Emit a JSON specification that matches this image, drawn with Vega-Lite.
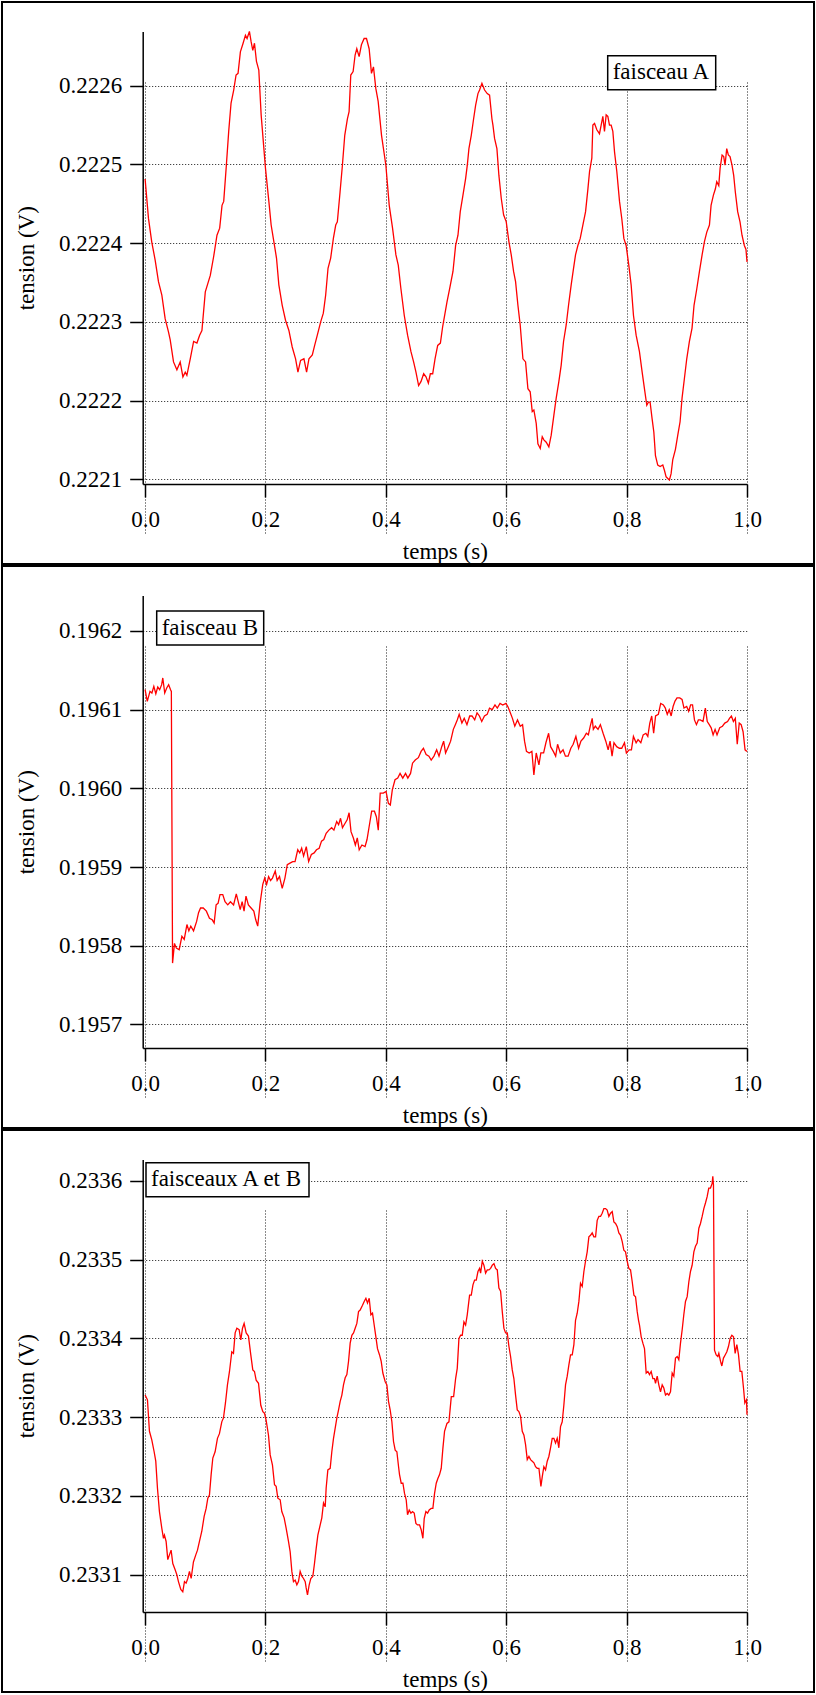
{
"$schema": "https://vega.github.io/schema/vega-lite/v6.json",
"background": "white",
"padding": {"left": 1, "top": 1, "right": 1, "bottom": 1},
"spacing": 0,
"datasets": {
"A": [
{"t":0,"v":0.2224814},{"t":0.0056,"v":0.2224314},{"t":0.011,"v":0.2224017},{"t":0.0167,"v":0.2223784},{"t":0.0222,"v":0.222351},{"t":0.0278,"v":0.222334},{"t":0.0333,"v":0.222304},{"t":0.0389,"v":0.222287},{"t":0.0417,"v":0.222277},{"t":0.0472,"v":0.222249},{"t":0.0528,"v":0.222239},{"t":0.0583,"v":0.222249},{"t":0.0628,"v":0.22223},{"t":0.0667,"v":0.222236},{"t":0.0694,"v":0.222232},{"t":0.075,"v":0.222253},{"t":0.0806,"v":0.222275},{"t":0.0861,"v":0.222273},{"t":0.0906,"v":0.222283},{"t":0.0944,"v":0.222289},{"t":0.1,"v":0.222338},{"t":0.1083,"v":0.222359},{"t":0.1139,"v":0.222383},{"t":0.1194,"v":0.22241},{"t":0.1239,"v":0.222419},{"t":0.1278,"v":0.222448},{"t":0.1306,"v":0.222453},{"t":0.135,"v":0.222499},{"t":0.1389,"v":0.222542},{"t":0.1428,"v":0.222578},{"t":0.1472,"v":0.2225945},{"t":0.1511,"v":0.2226136},{"t":0.1544,"v":0.2226157},{"t":0.1583,"v":0.222643},{"t":0.1628,"v":0.222654},{"t":0.1667,"v":0.222664},{"t":0.1694,"v":0.22266},{"t":0.1733,"v":0.222669},{"t":0.1761,"v":0.222656},{"t":0.1789,"v":0.222645},{"t":0.1817,"v":0.222654},{"t":0.185,"v":0.222631},{"t":0.1889,"v":0.22262},{"t":0.1928,"v":0.222563},{"t":0.2,"v":0.222495},{"t":0.2056,"v":0.222453},{"t":0.2094,"v":0.222423},{"t":0.2139,"v":0.222402},{"t":0.2183,"v":0.222381},{"t":0.2222,"v":0.222347},{"t":0.2278,"v":0.222321},{"t":0.2333,"v":0.222302},{"t":0.2389,"v":0.222289},{"t":0.2444,"v":0.222268},{"t":0.25,"v":0.222253},{"t":0.2539,"v":0.222236},{"t":0.2583,"v":0.222251},{"t":0.2639,"v":0.222253},{"t":0.2683,"v":0.222236},{"t":0.2722,"v":0.222253},{"t":0.2778,"v":0.222258},{"t":0.2817,"v":0.22227},{"t":0.2861,"v":0.222283},{"t":0.2917,"v":0.2223},{"t":0.2961,"v":0.222311},{"t":0.3,"v":0.222334},{"t":0.3039,"v":0.222368},{"t":0.3083,"v":0.222381},{"t":0.3128,"v":0.222406},{"t":0.3167,"v":0.222423},{"t":0.3194,"v":0.222427},{"t":0.3239,"v":0.222465},{"t":0.3278,"v":0.222499},{"t":0.3317,"v":0.222537},{"t":0.3361,"v":0.222558},{"t":0.3389,"v":0.222567},{"t":0.3417,"v":0.2226136},{"t":0.3456,"v":0.222618},{"t":0.3489,"v":0.222639},{"t":0.3517,"v":0.222647},{"t":0.3556,"v":0.222637},{"t":0.3594,"v":0.222652},{"t":0.3639,"v":0.22266},{"t":0.3678,"v":0.22266},{"t":0.3722,"v":0.222647},{"t":0.3761,"v":0.2226157},{"t":0.3794,"v":0.222624},{"t":0.3833,"v":0.2225966},{"t":0.3872,"v":0.22258},{"t":0.3928,"v":0.222537},{"t":0.4,"v":0.222499},{"t":0.4056,"v":0.222448},{"t":0.4111,"v":0.222419},{"t":0.4167,"v":0.222385},{"t":0.4206,"v":0.222372},{"t":0.425,"v":0.222342},{"t":0.4306,"v":0.222308},{"t":0.4361,"v":0.222283},{"t":0.4417,"v":0.222262},{"t":0.4461,"v":0.222249},{"t":0.45,"v":0.222236},{"t":0.4544,"v":0.222219},{"t":0.4583,"v":0.222224},{"t":0.4628,"v":0.222234},{"t":0.4667,"v":0.22223},{"t":0.4706,"v":0.222222},{"t":0.4739,"v":0.222234},{"t":0.4778,"v":0.222234},{"t":0.4817,"v":0.222253},{"t":0.4861,"v":0.22227},{"t":0.4906,"v":0.222273},{"t":0.4944,"v":0.222294},{"t":0.5015,"v":0.222325},{"t":0.5059,"v":0.222342},{"t":0.5115,"v":0.222364},{"t":0.5159,"v":0.222397},{"t":0.5198,"v":0.22241},{"t":0.5236,"v":0.22244},{"t":0.5281,"v":0.222461},{"t":0.5325,"v":0.222482},{"t":0.5353,"v":0.222499},{"t":0.538,"v":0.22252},{"t":0.5419,"v":0.222537},{"t":0.5458,"v":0.222558},{"t":0.5491,"v":0.222575},{"t":0.553,"v":0.22259},{"t":0.5557,"v":0.2225945},{"t":0.5596,"v":0.222603},{"t":0.564,"v":0.2225945},{"t":0.5684,"v":0.22259},{"t":0.5723,"v":0.222588},{"t":0.5762,"v":0.222558},{"t":0.5779,"v":0.22255},{"t":0.5806,"v":0.222533},{"t":0.5845,"v":0.22252},{"t":0.5878,"v":0.222486},{"t":0.5917,"v":0.222457},{"t":0.5956,"v":0.222436},{"t":0.6,"v":0.222427},{"t":0.6044,"v":0.222402},{"t":0.6083,"v":0.222385},{"t":0.6122,"v":0.222364},{"t":0.6155,"v":0.222351},{"t":0.6194,"v":0.222321},{"t":0.6232,"v":0.222296},{"t":0.6277,"v":0.222253},{"t":0.6321,"v":0.222249},{"t":0.636,"v":0.222215},{"t":0.6398,"v":0.222211},{"t":0.6432,"v":0.222186},{"t":0.6459,"v":0.222188},{"t":0.6498,"v":0.222171},{"t":0.6526,"v":0.222145},{"t":0.6565,"v":0.222139},{"t":0.6598,"v":0.222154},{"t":0.6625,"v":0.22215},{"t":0.6664,"v":0.222147},{"t":0.6708,"v":0.222141},{"t":0.6747,"v":0.222156},{"t":0.6791,"v":0.222181},{"t":0.683,"v":0.222203},{"t":0.6874,"v":0.222224},{"t":0.6913,"v":0.222245},{"t":0.6952,"v":0.222275},{"t":0.6996,"v":0.222296},{"t":0.7035,"v":0.222321},{"t":0.7079,"v":0.222347},{"t":0.7118,"v":0.222368},{"t":0.7151,"v":0.222385},{"t":0.719,"v":0.222397},{"t":0.7229,"v":0.222406},{"t":0.7273,"v":0.222423},{"t":0.7318,"v":0.22244},{"t":0.7357,"v":0.222469},{"t":0.7384,"v":0.222491},{"t":0.7422,"v":0.222508},{"t":0.7439,"v":0.22255},{"t":0.7467,"v":0.222552},{"t":0.7505,"v":0.222544},{"t":0.7549,"v":0.222539},{"t":0.7577,"v":0.22255},{"t":0.7605,"v":0.222561},{"t":0.7632,"v":0.222542},{"t":0.766,"v":0.222563},{"t":0.7688,"v":0.222561},{"t":0.7715,"v":0.22255},{"t":0.7743,"v":0.22255},{"t":0.7771,"v":0.222542},{"t":0.7799,"v":0.222516},{"t":0.7837,"v":0.222491},{"t":0.7882,"v":0.222453},{"t":0.792,"v":0.222431},{"t":0.7954,"v":0.222406},{"t":0.7992,"v":0.222397},{"t":0.8036,"v":0.222372},{"t":0.8075,"v":0.222347},{"t":0.8114,"v":0.222308},{"t":0.8158,"v":0.222283},{"t":0.8213,"v":0.222262},{"t":0.8258,"v":0.222236},{"t":0.8296,"v":0.222215},{"t":0.8335,"v":0.222194},{"t":0.8362,"v":0.222198},{"t":0.839,"v":0.222198},{"t":0.8423,"v":0.222177},{"t":0.8452,"v":0.22216},{"t":0.8479,"v":0.22213},{"t":0.8517,"v":0.222118},{"t":0.8557,"v":0.222116},{"t":0.8601,"v":0.222118},{"t":0.8629,"v":0.222111},{"t":0.8656,"v":0.222103},{"t":0.8684,"v":0.222101},{"t":0.8711,"v":0.222099},{"t":0.8739,"v":0.222107},{"t":0.8767,"v":0.222125},{"t":0.8811,"v":0.222138},{"t":0.885,"v":0.222156},{"t":0.8888,"v":0.222173},{"t":0.8921,"v":0.222203},{"t":0.896,"v":0.222228},{"t":0.8999,"v":0.222253},{"t":0.9043,"v":0.222275},{"t":0.9087,"v":0.222292},{"t":0.912,"v":0.222321},{"t":0.9166,"v":0.222342},{"t":0.921,"v":0.222364},{"t":0.9254,"v":0.222385},{"t":0.9293,"v":0.222402},{"t":0.9332,"v":0.222414},{"t":0.9376,"v":0.222423},{"t":0.9403,"v":0.222448},{"t":0.9442,"v":0.222461},{"t":0.9475,"v":0.222469},{"t":0.9497,"v":0.222478},{"t":0.9531,"v":0.222473},{"t":0.9553,"v":0.222495},{"t":0.9586,"v":0.222512},{"t":0.9613,"v":0.22251},{"t":0.9635,"v":0.222499},{"t":0.9663,"v":0.22252},{"t":0.969,"v":0.222512},{"t":0.9718,"v":0.22251},{"t":0.9751,"v":0.222499},{"t":0.9779,"v":0.222486},{"t":0.9806,"v":0.222465},{"t":0.9845,"v":0.22244},{"t":0.9884,"v":0.222427},{"t":0.9917,"v":0.22241},{"t":0.9956,"v":0.222397},{"t":0.9983,"v":0.222392},{"t":1.0,"v":0.222376}
],
"B": [
{"t":0,"v":0.1961254},{"t":0.0036,"v":0.1961106},{"t":0.0081,"v":0.1961233},{"t":0.0113,"v":0.1961212},{"t":0.0145,"v":0.1961297},{"t":0.0178,"v":0.1961203},{"t":0.021,"v":0.1961288},{"t":0.0242,"v":0.1961254},{"t":0.0275,"v":0.1961318},{"t":0.0294,"v":0.1961403},{"t":0.0326,"v":0.1961212},{"t":0.0359,"v":0.1961275},{"t":0.0391,"v":0.1961318},{"t":0.0423,"v":0.1961254},{"t":0.0436,"v":0.1961233},{"t":0.0456,"v":0.195778},{"t":0.0488,"v":0.195803},{"t":0.052,"v":0.195797},{"t":0.0566,"v":0.195795},{"t":0.0611,"v":0.195812},{"t":0.065,"v":0.195808},{"t":0.0695,"v":0.195827},{"t":0.0727,"v":0.195819},{"t":0.0759,"v":0.195825},{"t":0.0805,"v":0.195819},{"t":0.0856,"v":0.195831},{"t":0.0888,"v":0.195842},{"t":0.0921,"v":0.195848},{"t":0.0966,"v":0.195848},{"t":0.1018,"v":0.195844},{"t":0.1069,"v":0.195835},{"t":0.1115,"v":0.195833},{"t":0.1147,"v":0.195829},{"t":0.118,"v":0.195852},{"t":0.1212,"v":0.195854},{"t":0.1244,"v":0.195865},{"t":0.129,"v":0.195865},{"t":0.1328,"v":0.195856},{"t":0.1373,"v":0.195852},{"t":0.1418,"v":0.195856},{"t":0.147,"v":0.195852},{"t":0.1515,"v":0.195866},{"t":0.1547,"v":0.195856},{"t":0.158,"v":0.195846},{"t":0.1612,"v":0.195856},{"t":0.1644,"v":0.195844},{"t":0.1676,"v":0.195863},{"t":0.1716,"v":0.195852},{"t":0.1761,"v":0.195848},{"t":0.1806,"v":0.195844},{"t":0.1838,"v":0.195833},{"t":0.1871,"v":0.195825},{"t":0.191,"v":0.195854},{"t":0.1955,"v":0.195878},{"t":0.1987,"v":0.195886},{"t":0.2019,"v":0.195878},{"t":0.2052,"v":0.195888},{"t":0.2084,"v":0.195883},{"t":0.2116,"v":0.195886},{"t":0.2162,"v":0.195895},{"t":0.2194,"v":0.195883},{"t":0.2233,"v":0.195888},{"t":0.2278,"v":0.195873},{"t":0.2323,"v":0.195886},{"t":0.2362,"v":0.195903},{"t":0.2407,"v":0.195905},{"t":0.2452,"v":0.195907},{"t":0.2491,"v":0.195907},{"t":0.2536,"v":0.195922},{"t":0.2569,"v":0.195918},{"t":0.2601,"v":0.195924},{"t":0.2633,"v":0.195914},{"t":0.2678,"v":0.195926},{"t":0.2717,"v":0.195907},{"t":0.2762,"v":0.195916},{"t":0.2808,"v":0.195918},{"t":0.2847,"v":0.195922},{"t":0.2892,"v":0.195924},{"t":0.2931,"v":0.195933},{"t":0.2969,"v":0.195935},{"t":0.3008,"v":0.195943},{"t":0.3053,"v":0.195947},{"t":0.3099,"v":0.19595},{"t":0.3137,"v":0.195947},{"t":0.3183,"v":0.195958},{"t":0.3215,"v":0.195954},{"t":0.3247,"v":0.195962},{"t":0.3279,"v":0.19595},{"t":0.3325,"v":0.195956},{"t":0.3357,"v":0.19596},{"t":0.3389,"v":0.195969},{"t":0.3421,"v":0.195945},{"t":0.346,"v":0.195937},{"t":0.3493,"v":0.195928},{"t":0.3525,"v":0.195937},{"t":0.3557,"v":0.195922},{"t":0.3602,"v":0.195928},{"t":0.3654,"v":0.195926},{"t":0.3687,"v":0.195935},{"t":0.3732,"v":0.195956},{"t":0.3764,"v":0.195971},{"t":0.381,"v":0.195971},{"t":0.3842,"v":0.195964},{"t":0.3874,"v":0.195947},{"t":0.3906,"v":0.195994},{"t":0.3958,"v":0.195994},{"t":0.4003,"v":0.195996},{"t":0.4042,"v":0.195981},{"t":0.4074,"v":0.195979},{"t":0.4107,"v":0.195998},{"t":0.4152,"v":0.196011},{"t":0.4197,"v":0.196013},{"t":0.4236,"v":0.196019},{"t":0.4281,"v":0.196013},{"t":0.4327,"v":0.196019},{"t":0.4365,"v":0.196013},{"t":0.441,"v":0.196019},{"t":0.4443,"v":0.196032},{"t":0.4488,"v":0.196036},{"t":0.454,"v":0.196039},{"t":0.4585,"v":0.196047},{"t":0.4624,"v":0.196051},{"t":0.4669,"v":0.196043},{"t":0.4715,"v":0.196041},{"t":0.4753,"v":0.196036},{"t":0.4799,"v":0.196041},{"t":0.4844,"v":0.196049},{"t":0.4883,"v":0.196041},{"t":0.4928,"v":0.196053},{"t":0.496,"v":0.19606},{"t":0.4992,"v":0.196045},{"t":0.5038,"v":0.196053},{"t":0.5076,"v":0.19606},{"t":0.5121,"v":0.196075},{"t":0.5154,"v":0.196081},{"t":0.5186,"v":0.196087},{"t":0.5218,"v":0.196094},{"t":0.5263,"v":0.196083},{"t":0.5302,"v":0.196089},{"t":0.5347,"v":0.196081},{"t":0.5393,"v":0.196092},{"t":0.5431,"v":0.196092},{"t":0.5476,"v":0.196087},{"t":0.5515,"v":0.196096},{"t":0.5554,"v":0.196092},{"t":0.5593,"v":0.196085},{"t":0.5638,"v":0.196092},{"t":0.5683,"v":0.196094},{"t":0.5722,"v":0.196102},{"t":0.5767,"v":0.1961},{"t":0.5813,"v":0.196106},{"t":0.5851,"v":0.196102},{"t":0.5897,"v":0.196108},{"t":0.5942,"v":0.196106},{"t":0.5994,"v":0.196108},{"t":0.6026,"v":0.196104},{"t":0.6058,"v":0.196098},{"t":0.6103,"v":0.196089},{"t":0.6142,"v":0.196079},{"t":0.6187,"v":0.196087},{"t":0.6233,"v":0.196079},{"t":0.6271,"v":0.196081},{"t":0.6304,"v":0.19606},{"t":0.6336,"v":0.196047},{"t":0.6381,"v":0.196045},{"t":0.6426,"v":0.196047},{"t":0.6459,"v":0.196017},{"t":0.6498,"v":0.196045},{"t":0.6543,"v":0.19603},{"t":0.6575,"v":0.196045},{"t":0.6621,"v":0.196045},{"t":0.6659,"v":0.196058},{"t":0.6704,"v":0.19607},{"t":0.6737,"v":0.196053},{"t":0.6782,"v":0.196047},{"t":0.6821,"v":0.196041},{"t":0.6853,"v":0.196056},{"t":0.6898,"v":0.196045},{"t":0.6944,"v":0.196049},{"t":0.6983,"v":0.196041},{"t":0.7028,"v":0.196041},{"t":0.7073,"v":0.196051},{"t":0.7112,"v":0.196056},{"t":0.7157,"v":0.196066},{"t":0.7202,"v":0.196051},{"t":0.7241,"v":0.19606},{"t":0.7286,"v":0.196064},{"t":0.7331,"v":0.19607},{"t":0.7364,"v":0.196068},{"t":0.7396,"v":0.196079},{"t":0.7428,"v":0.196089},{"t":0.7447,"v":0.196075},{"t":0.748,"v":0.196079},{"t":0.7525,"v":0.196075},{"t":0.7564,"v":0.196081},{"t":0.7609,"v":0.19607},{"t":0.7654,"v":0.19606},{"t":0.7693,"v":0.196049},{"t":0.7725,"v":0.19606},{"t":0.7758,"v":0.196041},{"t":0.779,"v":0.196058},{"t":0.7835,"v":0.196053},{"t":0.788,"v":0.196051},{"t":0.7919,"v":0.196051},{"t":0.7964,"v":0.196058},{"t":0.7996,"v":0.196045},{"t":0.8042,"v":0.196049},{"t":0.808,"v":0.196049},{"t":0.8113,"v":0.196066},{"t":0.8158,"v":0.196058},{"t":0.819,"v":0.196062},{"t":0.8236,"v":0.196058},{"t":0.8275,"v":0.196068},{"t":0.832,"v":0.19607},{"t":0.8352,"v":0.196066},{"t":0.8385,"v":0.196083},{"t":0.8417,"v":0.196092},{"t":0.8449,"v":0.19607},{"t":0.8481,"v":0.196092},{"t":0.8527,"v":0.196094},{"t":0.8566,"v":0.196108},{"t":0.8611,"v":0.196106},{"t":0.8643,"v":0.196102},{"t":0.8675,"v":0.196094},{"t":0.8708,"v":0.1961},{"t":0.874,"v":0.196092},{"t":0.8772,"v":0.196104},{"t":0.8804,"v":0.196111},{"t":0.8837,"v":0.196115},{"t":0.8882,"v":0.196115},{"t":0.8921,"v":0.196113},{"t":0.8953,"v":0.196102},{"t":0.8998,"v":0.196104},{"t":0.9031,"v":0.196098},{"t":0.9063,"v":0.196106},{"t":0.9095,"v":0.196106},{"t":0.9127,"v":0.196087},{"t":0.916,"v":0.196081},{"t":0.9192,"v":0.196087},{"t":0.9224,"v":0.196087},{"t":0.9269,"v":0.196085},{"t":0.9308,"v":0.196102},{"t":0.934,"v":0.196085},{"t":0.9373,"v":0.196081},{"t":0.9405,"v":0.196077},{"t":0.9437,"v":0.196068},{"t":0.947,"v":0.196075},{"t":0.9502,"v":0.196068},{"t":0.9547,"v":0.196077},{"t":0.9592,"v":0.196079},{"t":0.9631,"v":0.196083},{"t":0.9677,"v":0.196085},{"t":0.9709,"v":0.196089},{"t":0.9741,"v":0.196092},{"t":0.9774,"v":0.196085},{"t":0.9806,"v":0.196089},{"t":0.9838,"v":0.196056},{"t":0.9871,"v":0.196083},{"t":0.9903,"v":0.196081},{"t":0.9935,"v":0.196072},{"t":0.9968,"v":0.196049},{"t":1.0,"v":0.196047}
],
"AB": [
{"t":0,"v":0.2333282},{"t":0.0039,"v":0.233322},{"t":0.0072,"v":0.233282},{"t":0.0111,"v":0.233271},{"t":0.015,"v":0.233256},{"t":0.0177,"v":0.233244},{"t":0.0205,"v":0.23321},{"t":0.0238,"v":0.23318},{"t":0.0277,"v":0.233159},{"t":0.0305,"v":0.233146},{"t":0.0321,"v":0.23315},{"t":0.0349,"v":0.233142},{"t":0.0377,"v":0.233119},{"t":0.0404,"v":0.233125},{"t":0.0432,"v":0.233131},{"t":0.046,"v":0.233114},{"t":0.0499,"v":0.233106},{"t":0.0526,"v":0.2331},{"t":0.0554,"v":0.233091},{"t":0.0593,"v":0.233081},{"t":0.0626,"v":0.233078},{"t":0.0654,"v":0.233091},{"t":0.0681,"v":0.233089},{"t":0.0709,"v":0.233095},{"t":0.0737,"v":0.233104},{"t":0.0765,"v":0.233095},{"t":0.0803,"v":0.233116},{"t":0.0842,"v":0.233125},{"t":0.087,"v":0.233131},{"t":0.0903,"v":0.233142},{"t":0.0942,"v":0.233155},{"t":0.0981,"v":0.233174},{"t":0.1014,"v":0.233184},{"t":0.1042,"v":0.233197},{"t":0.1069,"v":0.233201},{"t":0.1097,"v":0.233227},{"t":0.1125,"v":0.233248},{"t":0.1163,"v":0.233256},{"t":0.1202,"v":0.233273},{"t":0.1235,"v":0.233279},{"t":0.1274,"v":0.233294},{"t":0.1302,"v":0.233299},{"t":0.1335,"v":0.233318},{"t":0.1368,"v":0.233341},{"t":0.1402,"v":0.233358},{"t":0.144,"v":0.233383},{"t":0.1468,"v":0.233381},{"t":0.1496,"v":0.233407},{"t":0.1524,"v":0.233413},{"t":0.1562,"v":0.233411},{"t":0.159,"v":0.233398},{"t":0.1618,"v":0.233413},{"t":0.1645,"v":0.233419},{"t":0.1679,"v":0.233407},{"t":0.1717,"v":0.233403},{"t":0.1756,"v":0.233379},{"t":0.1789,"v":0.23336},{"t":0.1817,"v":0.233358},{"t":0.1845,"v":0.233347},{"t":0.1884,"v":0.233343},{"t":0.1922,"v":0.233315},{"t":0.1956,"v":0.233307},{"t":0.1983,"v":0.233305},{"t":0.2011,"v":0.233296},{"t":0.205,"v":0.233277},{"t":0.2078,"v":0.233252},{"t":0.2116,"v":0.233239},{"t":0.215,"v":0.233214},{"t":0.2177,"v":0.233212},{"t":0.2205,"v":0.233197},{"t":0.2244,"v":0.233195},{"t":0.2271,"v":0.23318},{"t":0.231,"v":0.233172},{"t":0.2343,"v":0.233159},{"t":0.2382,"v":0.233142},{"t":0.241,"v":0.233129},{"t":0.2438,"v":0.233104},{"t":0.2465,"v":0.233091},{"t":0.2493,"v":0.233093},{"t":0.2521,"v":0.233087},{"t":0.2548,"v":0.233091},{"t":0.2576,"v":0.233104},{"t":0.2604,"v":0.233098},{"t":0.2632,"v":0.233095},{"t":0.266,"v":0.233091},{"t":0.2676,"v":0.233083},{"t":0.2698,"v":0.233074},{"t":0.2726,"v":0.233087},{"t":0.2753,"v":0.233095},{"t":0.2787,"v":0.233098},{"t":0.2814,"v":0.233114},{"t":0.2842,"v":0.233133},{"t":0.287,"v":0.23315},{"t":0.2909,"v":0.233163},{"t":0.2936,"v":0.233172},{"t":0.2964,"v":0.233191},{"t":0.2992,"v":0.233186},{"t":0.3008,"v":0.23321},{"t":0.3036,"v":0.233233},{"t":0.3075,"v":0.233235},{"t":0.3102,"v":0.233256},{"t":0.313,"v":0.233273},{"t":0.3158,"v":0.233286},{"t":0.3186,"v":0.233299},{"t":0.3213,"v":0.233309},{"t":0.3241,"v":0.23332},{"t":0.3269,"v":0.233328},{"t":0.3296,"v":0.233341},{"t":0.3324,"v":0.23335},{"t":0.3352,"v":0.233354},{"t":0.338,"v":0.233371},{"t":0.3407,"v":0.233394},{"t":0.3435,"v":0.233404},{"t":0.3463,"v":0.233407},{"t":0.349,"v":0.233413},{"t":0.3518,"v":0.233419},{"t":0.3546,"v":0.233434},{"t":0.3573,"v":0.233436},{"t":0.3612,"v":0.233442},{"t":0.364,"v":0.233447},{"t":0.3668,"v":0.233451},{"t":0.3695,"v":0.233445},{"t":0.3723,"v":0.233451},{"t":0.3751,"v":0.23343},{"t":0.3778,"v":0.233432},{"t":0.3806,"v":0.233417},{"t":0.3834,"v":0.233402},{"t":0.3861,"v":0.233387},{"t":0.3895,"v":0.233379},{"t":0.3922,"v":0.233371},{"t":0.395,"v":0.233356},{"t":0.3989,"v":0.233345},{"t":0.4017,"v":0.233341},{"t":0.4044,"v":0.23332},{"t":0.4072,"v":0.233309},{"t":0.41,"v":0.233294},{"t":0.4127,"v":0.233269},{"t":0.4155,"v":0.233258},{"t":0.4183,"v":0.233256},{"t":0.4211,"v":0.233237},{"t":0.4227,"v":0.233227},{"t":0.4255,"v":0.233216},{"t":0.4283,"v":0.233216},{"t":0.431,"v":0.233203},{"t":0.4338,"v":0.233195},{"t":0.436,"v":0.233176},{"t":0.4388,"v":0.233182},{"t":0.4416,"v":0.233178},{"t":0.4443,"v":0.23318},{"t":0.4471,"v":0.233178},{"t":0.4499,"v":0.233165},{"t":0.4526,"v":0.233163},{"t":0.456,"v":0.233163},{"t":0.4587,"v":0.233157},{"t":0.4615,"v":0.233146},{"t":0.4637,"v":0.233171},{"t":0.4665,"v":0.23318},{"t":0.4693,"v":0.233178},{"t":0.472,"v":0.233182},{"t":0.4753,"v":0.233184},{"t":0.4781,"v":0.233184},{"t":0.4809,"v":0.233203},{"t":0.4837,"v":0.233216},{"t":0.4864,"v":0.233222},{"t":0.4892,"v":0.233227},{"t":0.492,"v":0.233235},{"t":0.4947,"v":0.23326},{"t":0.4975,"v":0.233282},{"t":0.5015,"v":0.233292},{"t":0.5048,"v":0.233294},{"t":0.5087,"v":0.233326},{"t":0.5126,"v":0.233326},{"t":0.5159,"v":0.233349},{"t":0.5186,"v":0.233362},{"t":0.5214,"v":0.2334},{"t":0.5242,"v":0.233404},{"t":0.5269,"v":0.233404},{"t":0.5297,"v":0.233421},{"t":0.5325,"v":0.233417},{"t":0.5352,"v":0.23343},{"t":0.5391,"v":0.233455},{"t":0.5419,"v":0.233455},{"t":0.5447,"v":0.233468},{"t":0.5474,"v":0.233474},{"t":0.5502,"v":0.233474},{"t":0.553,"v":0.233485},{"t":0.5557,"v":0.233489},{"t":0.5574,"v":0.233483},{"t":0.5602,"v":0.233498},{"t":0.5629,"v":0.233493},{"t":0.5657,"v":0.233483},{"t":0.5685,"v":0.233487},{"t":0.5712,"v":0.233487},{"t":0.574,"v":0.233489},{"t":0.5768,"v":0.233493},{"t":0.5796,"v":0.233495},{"t":0.5823,"v":0.233489},{"t":0.5851,"v":0.233487},{"t":0.5878,"v":0.233464},{"t":0.5906,"v":0.23346},{"t":0.5934,"v":0.233434},{"t":0.5961,"v":0.233413},{"t":0.5989,"v":0.233407},{"t":0.6017,"v":0.233407},{"t":0.6044,"v":0.23339},{"t":0.6072,"v":0.233377},{"t":0.61,"v":0.23336},{"t":0.6127,"v":0.233349},{"t":0.6155,"v":0.233328},{"t":0.6183,"v":0.233309},{"t":0.621,"v":0.233307},{"t":0.6238,"v":0.233301},{"t":0.6266,"v":0.233282},{"t":0.6294,"v":0.233277},{"t":0.6321,"v":0.233265},{"t":0.6349,"v":0.233246},{"t":0.6377,"v":0.23325},{"t":0.6404,"v":0.233246},{"t":0.6432,"v":0.233244},{"t":0.646,"v":0.233242},{"t":0.6487,"v":0.233237},{"t":0.6515,"v":0.233235},{"t":0.6543,"v":0.233235},{"t":0.6576,"v":0.233212},{"t":0.6598,"v":0.233224},{"t":0.6625,"v":0.233237},{"t":0.6653,"v":0.233233},{"t":0.6681,"v":0.233244},{"t":0.6708,"v":0.23325},{"t":0.6736,"v":0.233261},{"t":0.6764,"v":0.233273},{"t":0.6791,"v":0.233273},{"t":0.6819,"v":0.233267},{"t":0.6847,"v":0.233273},{"t":0.6874,"v":0.233261},{"t":0.6902,"v":0.233288},{"t":0.693,"v":0.233294},{"t":0.6957,"v":0.233315},{"t":0.6985,"v":0.233341},{"t":0.7013,"v":0.233352},{"t":0.704,"v":0.233366},{"t":0.7068,"v":0.233379},{"t":0.7096,"v":0.233379},{"t":0.7124,"v":0.233392},{"t":0.7151,"v":0.233423},{"t":0.7179,"v":0.233432},{"t":0.7207,"v":0.233447},{"t":0.7234,"v":0.23347},{"t":0.7262,"v":0.233466},{"t":0.729,"v":0.233485},{"t":0.7317,"v":0.233498},{"t":0.7345,"v":0.23351},{"t":0.7373,"v":0.233529},{"t":0.74,"v":0.233531},{"t":0.7428,"v":0.233534},{"t":0.7456,"v":0.233529},{"t":0.7484,"v":0.233529},{"t":0.7511,"v":0.23355},{"t":0.7539,"v":0.233555},{"t":0.7567,"v":0.233555},{"t":0.7594,"v":0.233559},{"t":0.7622,"v":0.233565},{"t":0.765,"v":0.233565},{"t":0.7677,"v":0.233563},{"t":0.7705,"v":0.233555},{"t":0.7733,"v":0.233559},{"t":0.7761,"v":0.233561},{"t":0.7788,"v":0.233548},{"t":0.7816,"v":0.233546},{"t":0.7844,"v":0.233542},{"t":0.7871,"v":0.233534},{"t":0.7899,"v":0.233531},{"t":0.7927,"v":0.233523},{"t":0.7954,"v":0.233512},{"t":0.7982,"v":0.23351},{"t":0.801,"v":0.233498},{"t":0.8037,"v":0.233489},{"t":0.8065,"v":0.233487},{"t":0.8093,"v":0.233472},{"t":0.8121,"v":0.233455},{"t":0.8148,"v":0.233453},{"t":0.8176,"v":0.233434},{"t":0.8198,"v":0.233423},{"t":0.8214,"v":0.233417},{"t":0.8242,"v":0.233402},{"t":0.827,"v":0.233394},{"t":0.8297,"v":0.233387},{"t":0.8325,"v":0.233356},{"t":0.8353,"v":0.233358},{"t":0.838,"v":0.233354},{"t":0.8408,"v":0.233358},{"t":0.8436,"v":0.233349},{"t":0.8463,"v":0.233349},{"t":0.848,"v":0.233343},{"t":0.8508,"v":0.233352},{"t":0.8535,"v":0.233341},{"t":0.8563,"v":0.233332},{"t":0.8591,"v":0.233341},{"t":0.8618,"v":0.233337},{"t":0.8646,"v":0.233328},{"t":0.8674,"v":0.23333},{"t":0.8701,"v":0.233328},{"t":0.8729,"v":0.233332},{"t":0.8757,"v":0.233356},{"t":0.8784,"v":0.233352},{"t":0.8812,"v":0.233375},{"t":0.884,"v":0.233377},{"t":0.8867,"v":0.233373},{"t":0.8895,"v":0.233394},{"t":0.8923,"v":0.233411},{"t":0.895,"v":0.23343},{"t":0.8978,"v":0.233447},{"t":0.9006,"v":0.233453},{"t":0.9034,"v":0.233472},{"t":0.9061,"v":0.233485},{"t":0.9089,"v":0.233493},{"t":0.9117,"v":0.23351},{"t":0.9144,"v":0.233517},{"t":0.9172,"v":0.233521},{"t":0.92,"v":0.23354},{"t":0.9227,"v":0.233546},{"t":0.9255,"v":0.233555},{"t":0.9283,"v":0.233565},{"t":0.931,"v":0.233572},{"t":0.9338,"v":0.23358},{"t":0.9365,"v":0.233591},{"t":0.9393,"v":0.233591},{"t":0.9421,"v":0.233597},{"t":0.9432,"v":0.233606},{"t":0.9443,"v":0.233595},{"t":0.946,"v":0.233385},{"t":0.9488,"v":0.233379},{"t":0.9515,"v":0.233377},{"t":0.9532,"v":0.233381},{"t":0.956,"v":0.233371},{"t":0.9582,"v":0.233365},{"t":0.9609,"v":0.233375},{"t":0.9637,"v":0.233379},{"t":0.9665,"v":0.233383},{"t":0.9693,"v":0.23339},{"t":0.972,"v":0.2334},{"t":0.9748,"v":0.233404},{"t":0.9776,"v":0.233402},{"t":0.9803,"v":0.233381},{"t":0.9831,"v":0.233392},{"t":0.9859,"v":0.233379},{"t":0.9886,"v":0.233358},{"t":0.9914,"v":0.233358},{"t":0.9942,"v":0.233337},{"t":0.9964,"v":0.233318},{"t":0.9992,"v":0.233322},{"t":1.0,"v":0.233303}
]
},
"vconcat": [
{
"width": 812, "height": 562,
"data": {"name": "A"},
"mark": {"type": "line", "strokeWidth": 1.3},
"encoding": {
"x": {"field": "t", "type": "quantitative", "scale": {"domain": [-0.004, 1], "range": [140.7, 745], "nice": false, "zero": false}, "axis": {"values": [0, 0.2, 0.4, 0.6, 0.8, 1], "format": ".1f", "offset": -80, "title": "temps (s)"}},
"y": {"field": "v", "type": "quantitative", "scale": {"domain": [0.2220939, 0.2226689], "range": [482, 29.5], "nice": false, "zero": false}, "axis": {"values": [0.2221, 0.2222, 0.2223, 0.2224, 0.2225, 0.2226], "format": ".4f", "offset": -140.7, "title": "tension (V)"}},
"color": {"datum": "faisceau A", "type": "nominal", "scale": {"range": ["#ff0000"]}, "legend": {"title": null, "orient": "none", "legendX": 605.7, "legendY": 53.7, "symbolType": "circle", "symbolSize": 0.01, "symbolStrokeWidth": 0, "symbolOpacity": 0, "labelOffset": -23}}
}
},
{
"width": 812, "height": 562,
"data": {"name": "B"},
"mark": {"type": "line", "strokeWidth": 1.3},
"encoding": {
"x": {"field": "t", "type": "quantitative", "scale": {"domain": [-0.004, 1], "range": [140.7, 745], "nice": false, "zero": false}, "axis": {"values": [0, 0.2, 0.4, 0.6, 0.8, 1], "format": ".1f", "offset": -80, "title": "temps (s)"}},
"y": {"field": "v", "type": "quantitative", "scale": {"domain": [0.1956701, 0.1962451], "range": [482, 29.5], "nice": false, "zero": false}, "axis": {"values": [0.1957, 0.1958, 0.1959, 0.196, 0.1961, 0.1962], "format": ".4f", "offset": -140.7, "title": "tension (V)"}},
"color": {"datum": "faisceau B", "type": "nominal", "scale": {"range": ["#ff0000"]}, "legend": {"title": null, "orient": "none", "legendX": 154.7, "legendY": 45, "symbolType": "circle", "symbolSize": 0.01, "symbolStrokeWidth": 0, "symbolOpacity": 0, "labelOffset": -23}}
}
},
{
"width": 812, "height": 562,
"data": {"name": "AB"},
"mark": {"type": "line", "strokeWidth": 1.3},
"encoding": {
"x": {"field": "t", "type": "quantitative", "scale": {"domain": [-0.004, 1], "range": [140.7, 745], "nice": false, "zero": false}, "axis": {"values": [0, 0.2, 0.4, 0.6, 0.8, 1], "format": ".1f", "offset": -80, "title": "temps (s)"}},
"y": {"field": "v", "type": "quantitative", "scale": {"domain": [0.2330524, 0.2336273], "range": [482, 29.5], "nice": false, "zero": false}, "axis": {"values": [0.2331, 0.2332, 0.2333, 0.2334, 0.2335, 0.2336], "format": ".4f", "offset": -140.7, "title": "tension (V)"}},
"color": {"datum": "faisceaux A et B", "type": "nominal", "scale": {"range": ["#ff0000"]}, "legend": {"title": null, "orient": "none", "legendX": 144, "legendY": 32.7, "symbolType": "circle", "symbolSize": 0.01, "symbolStrokeWidth": 0, "symbolOpacity": 0, "labelOffset": -23}}
}
}
],
"resolve": {"scale": {"x": "independent", "y": "independent", "color": "independent"}, "legend": {"color": "independent"}, "axis": {"x": "independent", "y": "independent"}},
"config": {
"view": {"stroke": "black", "strokeWidth": 2},
"font": "'Liberation Serif', 'Times New Roman', serif",
"axis": {"labelFont": "'Liberation Serif', 'Times New Roman', serif", "labelFontSize": 23, "labelColor": "black", "titleFont": "'Liberation Serif', 'Times New Roman', serif", "titleFontSize": 23, "titleFontWeight": "normal", "titleColor": "black", "domainColor": "black", "domainWidth": 1.5, "tickColor": "black", "tickWidth": 1.5, "tickSize": 13, "grid": true, "gridColor": "black", "gridDash": [1, 2], "gridWidth": 1, "gridOpacity": 0.9, "labelPadding": 8, "labelFlush": false, "labelOverlap": false},
"axisX": {"labelPadding": 11, "titlePadding": 9},
"axisY": {"titlePadding": 20},
"legend": {"labelFont": "'Liberation Serif', 'Times New Roman', serif", "labelFontSize": 23, "labelColor": "black", "labelLimit": 0, "strokeColor": "black", "strokeWidth": 1.5, "fillColor": "white", "padding": 5}
}
}
